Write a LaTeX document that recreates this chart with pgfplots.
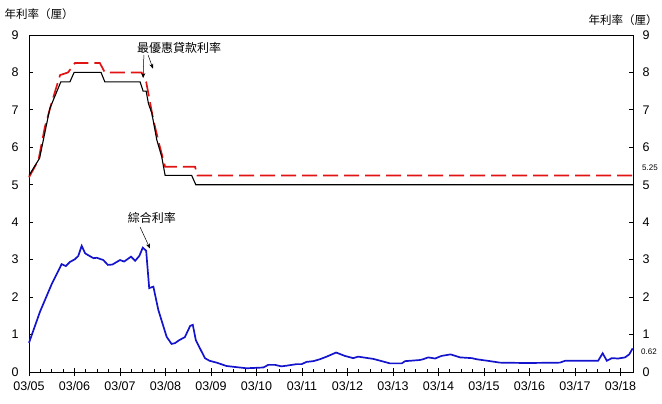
\documentclass[border=0pt]{standalone}
\usepackage{fontspec}
\setmainfont{Liberation Sans}
\newfontfamily\cjk{Noto Sans CJK TC}
\usepackage{pgfplots}
\pgfplotsset{compat=1.18}
\usetikzlibrary{arrows.meta}
\definecolor{primeRed}{RGB}{225,20,20}
\definecolor{compBlue}{RGB}{20,20,205}
\begin{document}
\begin{tikzpicture}[x=1bp,y=1bp]
\path[use as bounding box] (-29bp,-32bp) rectangle (633bp,372bp);
\begin{axis}[
  at={(0,0)}, anchor=south west,
  scale only axis, width=604bp, height=337bp,
  xmin=0, xmax=159.3, ymin=0, ymax=9,
  xtick={0,12,...,156},
  xticklabels={03/05,03/06,03/07,03/08,03/09,03/10,03/11,03/12,03/13,03/14,03/15,03/16,03/17,03/18},
  minor x tick num=3,
  xtick pos=bottom, ytick pos=left,
  ytick={0,1,...,9},
  tick align=inside,
  major tick length=4bp, minor tick length=3bp,
  extra x ticks={0,12,...,156}, extra x tick labels={},
  extra x tick style={tick align=outside, major tick length=4bp},
  tick style={black, line width=0.8pt},
  axis line style={black, line width=1pt},
  ticklabel style={font=\fontsize{12.5bp}{14bp}\selectfont},
  /pgf/number format/assume math mode=true,
  yticklabel style={xshift=-7bp},
  xticklabel style={yshift=-6bp},
  clip=false,
]
\addplot[primeRed, line width=1.7pt, dash pattern=on 15bp off 6bp] coordinates {
(0,5.2) (2.5,5.66) (4.2,6.55) (6.0,7.2) (8.2,7.93) (10.3,8.0) (12.1,8.25) (18.7,8.25) (20.0,8.0) (29.7,8.0) (30.9,7.75) (32.8,6.73) (34.5,6.02) (35.9,5.48) (43.8,5.48) (44.4,5.25) (159.3,5.25)
};
\addplot[black, line width=1.1pt] coordinates {
(0,5.25) (2.8,5.71) (5.5,7.04) (8.4,7.75) (10.8,7.75) (11.9,8.0) (19.0,8.0) (20.0,7.75) (29.3,7.75) (30.1,7.5) (30.9,7.5) (31.5,7.17) (32.4,6.91) (33.7,6.2) (35.0,5.75) (35.9,5.25) (42.9,5.25) (44.0,5.0) (159.3,5.0)
};
\addplot[compBlue, line width=1.7pt] coordinates {
(0,0.78) (2.9,1.61) (6.0,2.35) (8.6,2.88) (9.7,2.83) (10.8,2.94) (12.1,3.01) (13.0,3.10) (13.9,3.37) (14.8,3.17) (15.6,3.12) (17.0,3.04) (17.9,3.05) (19.6,2.99) (20.8,2.86) (22.0,2.87) (24.0,2.99) (25.1,2.95) (26.9,3.08) (28.0,2.97) (29.1,3.10) (30.0,3.32) (30.9,3.24) (31.7,2.24) (32.8,2.28) (34.1,1.66) (36.3,0.94) (37.6,0.75) (38.5,0.77) (39.6,0.85) (41.1,0.93) (42.5,1.23) (43.2,1.26) (44.0,0.85) (45.1,0.63) (46.4,0.37) (47.6,0.30) (49.5,0.25) (52.1,0.16) (55.6,0.12) (57.4,0.10) (61.8,0.12) (63.1,0.19) (64.9,0.19) (66.6,0.15) (68.0,0.17) (70.6,0.21) (71.9,0.21) (73.2,0.27) (75.0,0.29) (76.7,0.34) (78.5,0.41) (81.0,0.52) (83.3,0.43) (85.5,0.37) (86.8,0.41) (90.8,0.35) (93.4,0.28) (95.2,0.23) (98.3,0.23) (99.2,0.29) (103.1,0.32) (103.9,0.34) (105.3,0.39) (107.1,0.36) (108.8,0.43) (111.2,0.47) (113.7,0.39) (116.8,0.37) (118.1,0.34) (121.6,0.29) (124.2,0.25) (131.3,0.24) (140.0,0.25) (141.4,0.30) (145.3,0.30) (150.1,0.30) (151.3,0.50) (152.4,0.30) (153.7,0.37) (155.4,0.36) (157.2,0.39) (158.3,0.47) (159.2,0.63)
};
% annotations
\node[font=\cjk\fontsize{12bp}{14bp}\selectfont] at (axis cs:39.6,8.65) {最優惠貸款利率};
\draw[-{Stealth[length=5bp,width=4bp]}, line width=0.5pt] (axis cs:30.3,8.47) -- (axis cs:30.1,7.85);
\draw[-{Stealth[length=5bp,width=4bp]}, line width=0.5pt] (axis cs:31.4,8.47) -- (axis cs:32.7,8.1);
\node[font=\cjk\fontsize{12bp}{14bp}\selectfont] at (axis cs:32.4,4.11) {綜合利率};
\draw[-{Stealth[length=5bp,width=4bp]}, line width=0.5pt] (axis cs:29.3,3.87) -- (axis cs:31.9,3.3);
% titles
\node[font=\cjk\fontsize{11.5bp}{13bp}\selectfont] at ([xshift=10bp,yshift=21bp]rel axis cs:0,1) {年利率（厘）};
\node[font=\cjk\fontsize{11.5bp}{13bp}\selectfont] at ([xshift=-10bp,yshift=15bp]rel axis cs:1,1) {年利率（厘）};
% end values
\node[font=\fontsize{8bp}{9bp}\selectfont, anchor=west, inner sep=0pt] at ([xshift=9bp]axis cs:159.3,5.45) {5.25};
\node[font=\fontsize{8bp}{9bp}\selectfont, anchor=west, inner sep=0pt] at ([xshift=8bp]axis cs:159.3,0.53) {0.62};
\end{axis}
\begin{axis}[
  at={(0,0)}, anchor=south west,
  scale only axis, width=604bp, height=337bp,
  xmin=0, xmax=159.3, ymin=0, ymax=9,
  axis x line=none,
  axis y line*=right,
  ytick={0,1,...,9},
  tick align=inside,
  major tick length=4bp,
  tick style={black, line width=0.8pt},
  axis line style={black, line width=1pt},
  ticklabel style={font=\fontsize{12.5bp}{14bp}\selectfont},
  /pgf/number format/assume math mode=true,
  yticklabel style={xshift=6bp},
]
\addplot[draw=none] coordinates {(0,0)};
\end{axis}
\end{tikzpicture}
\end{document}
